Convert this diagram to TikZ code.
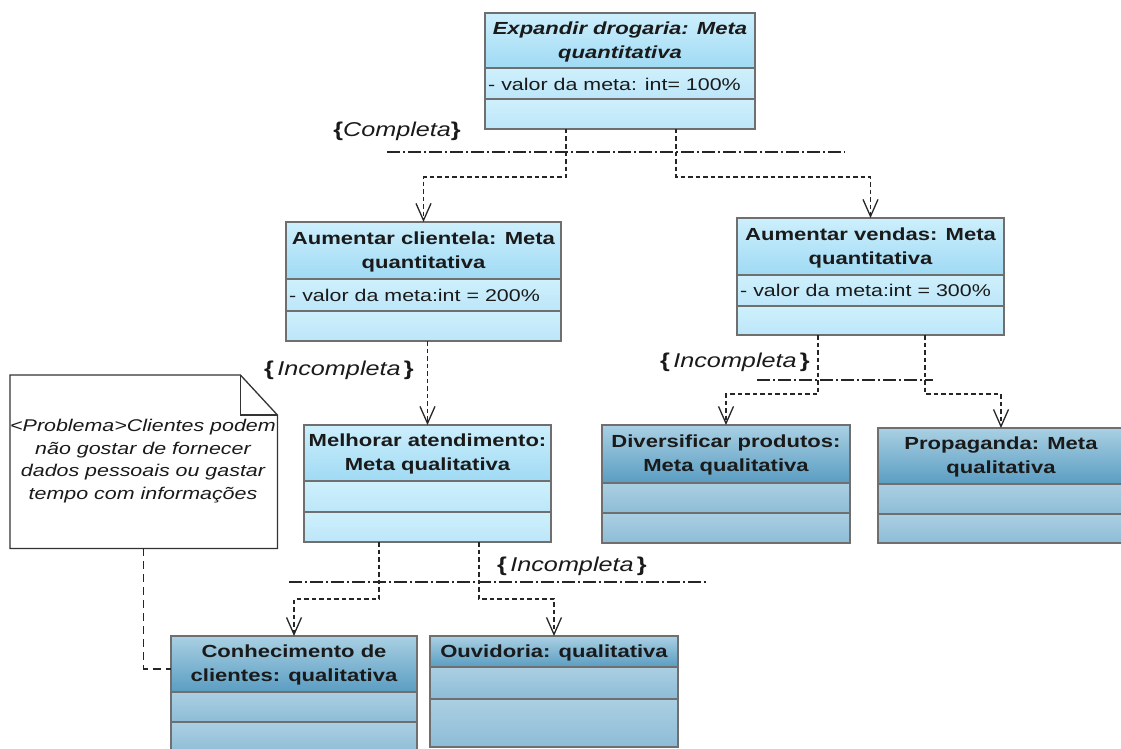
\documentclass[tikz,border=0pt]{standalone}
\usepackage{fontspec}
\setmainfont[FakeStretch=1.26]{Liberation Sans}
\usetikzlibrary{arrows.meta,calc}
\definecolor{boxgray}{HTML}{6F6F6F}
\definecolor{ltA}{HTML}{CDEFFC}
\definecolor{ltB}{HTML}{9FDAF4}
\definecolor{lsA}{HTML}{CFF0FC}
\definecolor{lsB}{HTML}{BCE6F9}
\definecolor{dtA}{HTML}{AAD0E3}
\definecolor{dtB}{HTML}{5A9DC2}
\definecolor{dsA}{HTML}{ABCFE2}
\definecolor{dsB}{HTML}{8DBCD6}
\definecolor{txt}{HTML}{1A1A1A}
\tikzset{
  boxline/.style={draw=boxgray, line width=2.6pt},
  lighttop/.style={top color=ltA, bottom color=ltB},
  lightsec/.style={top color=lsA, bottom color=lsB},
  darktop/.style={top color=dtA, bottom color=dtB},
  darksec/.style={top color=dsA, bottom color=dsB},
  titletext/.style={font=\fontsize{17.5}{24}\selectfont\bfseries, text=txt, align=center, inner sep=0pt},
  attrtext/.style={font=\fontsize{17}{24}\selectfont, text=txt, anchor=west, inner sep=0pt},
  labeltext/.style={font=\fontsize{20}{24}\selectfont, text=txt, inner sep=0pt},
  notetext/.style={font=\fontsize{17}{22.7}\selectfont\itshape, text=txt, align=center, inner sep=0pt},
  dep/.style={draw=black!85, line width=1.1pt, dash pattern=on 4.5pt off 3pt,
    -{Straight Barb[length=17pt,width=15pt,line width=1.3pt]}},
  notelink/.style={draw=black!85, line width=1.1pt, dash pattern=on 8pt off 5pt},
  gset/.style={draw=black!85, line width=1.1pt, dash pattern=on 13pt off 3pt on 2pt off 3pt},
}
% #1 name, #2 x, #3 y, #4 w, #5 h1, #6 h2, #7 h3, #8 light/dark, #9 title
\newcommand\umlbox[9]{%
  \shade[#8top] (#2,#3) rectangle (#2+#4,#3+#5);
  \shade[#8sec] (#2,#3+#5) rectangle (#2+#4,#3+#5+#6);
  \shade[#8sec] (#2,#3+#5+#6) rectangle (#2+#4,#3+#5+#6+#7);
  \draw[boxline] (#2,#3+#5) -- (#2+#4,#3+#5) (#2,#3+#5+#6) -- (#2+#4,#3+#5+#6);
  \node[boxline, anchor=north west, inner sep=0pt, outer sep=0pt,
        minimum width={#4pt}, minimum height={#5pt+#6pt+#7pt}] (#1) at (#2,#3) {};
  \node[titletext] (#1-t) at (#2+#4/2,#3+#5/2+1) {#9};
}
\begin{document}
\begin{tikzpicture}[x=1pt,y=-1pt]
\useasboundingbox (0,0) rectangle (1121,749);

% boxes
\umlbox{b1}{485}{13}{270}{55}{31}{30}{light}{\itshape Expandir drogaria: Meta\\\itshape quantitativa}
\node[attrtext] (b1-a) at (488,84.5) {- valor da meta: int= 100\%};

\umlbox{b2}{286}{222}{275}{57}{32}{30}{light}{Aumentar clientela: Meta\\quantitativa}
\node[attrtext] (b2-a) at (289,295) {- valor da meta:int = 200\%};

\umlbox{b3}{737}{218}{267}{57}{31}{29}{light}{Aumentar vendas: Meta\\quantitativa}
\node[attrtext] (b3-a) at (740,290.5) {- valor da meta:int = 300\%};

\umlbox{b4}{304}{425}{247}{56}{31}{30}{light}{Melhorar atendimento:\\Meta qualitativa}

\umlbox{b5}{602}{425}{248}{58}{30}{30}{dark}{Diversificar produtos:\\Meta qualitativa}

\umlbox{b6}{878}{428}{246}{56}{30}{29}{dark}{Propaganda: Meta\\qualitativa}

\umlbox{b7}{171}{636}{246}{56}{30}{32}{dark}{Conhecimento de\\clientes: qualitativa}

\umlbox{b8}{430}{636}{248}{31}{32}{48}{dark}{Ouvidoria: qualitativa}

% note
\node[anchor=north west, inner sep=0pt, minimum width=267pt, minimum height=173pt] (note) at (10,375) {};
\filldraw[fill=white, draw=black!80, line width=1.3pt]
  (note.north west) -- ($(note.north east)+(-37,0)$) -- ($(note.north east)+(0,40)$)
  -- (note.south east) -- (note.south west) -- cycle;
\draw[black!80, line width=1.3pt] ($(note.north east)+(-37,0)$) |- ($(note.north east)+(0,40)$);
\node[notetext] (note-t) at (143,461) {<Problema>Clientes podem\\não gostar de fornecer\\dados pessoais ou gastar\\tempo com informações};

% generalization set lines
\coordinate (g1a) at (387,152); \coordinate (g1b) at (845,152);
\draw[gset] (g1a) -- (g1b);
\coordinate (g2a) at (757,380); \coordinate (g2b) at (933,380);
\draw[gset] (g2a) -- (g2b);
\coordinate (g3a) at (289,582); \coordinate (g3b) at (708,582);
\draw[gset] (g3a) -- (g3b);

% labels
\node[labeltext] (l1) at (397,131) {\textbf{\{}\textit{Completa}\textbf{\}}};
\node[labeltext] (l2) at (339,370) {\textbf{\{}\,\textit{Incompleta}\,\textbf{\}}};
\node[labeltext] (l3) at (735,362) {\textbf{\{}\,\textit{Incompleta}\,\textbf{\}}};
\node[labeltext] (l4) at (572,566) {\textbf{\{}\,\textit{Incompleta}\,\textbf{\}}};

% connectors
\draw[dep] ($(b1.south west)+(81,0)$) -- ++(0,48) -| (b2.north);
\draw[dep] ($(b1.south west)+(191,0)$) -- ++(0,48) -| (b3.north);
\draw[dep] (b4.north |- b2.south) -- (b4.north);
\draw[dep] ($(b3.south west)+(81,0)$) -- ++(0,59) -| (b5.north);
\draw[dep] ($(b3.south west)+(188,0)$) -- ++(0,59) -| (b6.north);
\draw[dep] ($(b4.south west)+(75,0)$) -- ++(0,57) -| (b7.north);
\draw[dep] ($(b4.south west)+(175,0)$) -- ++(0,57) -| (b8.north);
\draw[notelink] (note.south) |- ($(b7.north west)+(0,33)$);
\end{tikzpicture}
\end{document}
